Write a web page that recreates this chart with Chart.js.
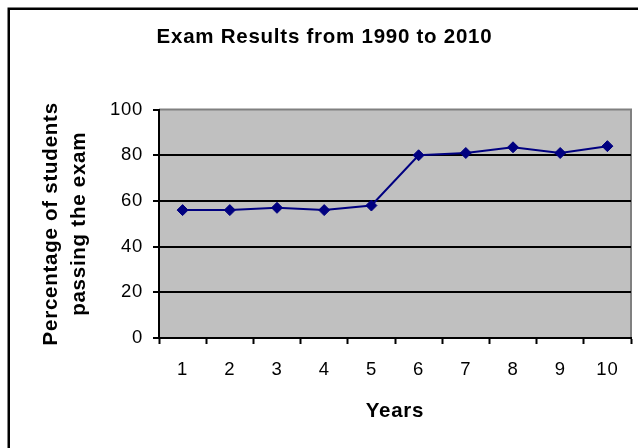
<!DOCTYPE html>
<html>
<head>
<meta charset="utf-8">
<script src="https://cdn.jsdelivr.net/npm/chart.js@4.4.1/dist/chart.umd.min.js"></script>
<style>
  html, body { margin: 0; padding: 0; background: #fff; }
  canvas { display: block; }
</style>
</head>
<body>
<canvas id="chart" width="638" height="448"></canvas>
<script>
// data
const years = ['1', '2', '3', '4', '5', '6', '7', '8', '9', '10'];
const passRates = [56, 56, 57, 56, 58, 80, 81, 83.5, 81, 84];
const yTicks = [0, 20, 40, 60, 80, 100];

const chartTitle = 'Exam Results from 1990 to 2010';
const xTitle = 'Years';
const yTitle = ['Percentage of students', 'passing the exam'];

const FONT = 'Liberation Sans, Arial, sans-serif';

// white page, outer black frame and the grey plot area (Excel look)
const frame = {
  id: 'frame',
  beforeDraw(chart) {
    const { ctx, chartArea: a } = chart;
    ctx.save();
    ctx.fillStyle = '#fff';
    ctx.fillRect(0, 0, chart.width, chart.height);
    ctx.strokeStyle = '#000';
    ctx.lineWidth = 2.5;
    ctx.strokeRect(8.75, 8.75, chart.width + 20, chart.height + 20);
    ctx.fillStyle = '#c0c0c0';
    ctx.fillRect(a.left, a.top, a.right - a.left, a.bottom - a.top);
    ctx.strokeStyle = '#808080';
    ctx.lineWidth = 2;
    ctx.beginPath();
    ctx.moveTo(a.left, a.top);
    ctx.lineTo(a.right, a.top);
    ctx.lineTo(a.right, a.bottom);
    ctx.stroke();
    ctx.restore();
    // the reference text runs a little wider than Arial
    ctx.letterSpacing = '0.75px';
  }
};

new Chart(document.getElementById('chart'), {
  type: 'line',
  data: {
    labels: years,
    datasets: [{
      data: passRates,
      borderColor: '#000080',
      borderWidth: 2,
      tension: 0,
      pointStyle: 'rectRot',
      pointRadius: 5.5,
      pointBackgroundColor: '#000080',
      pointBorderColor: '#000080',
      pointBorderWidth: 1
    }]
  },
  options: {
    responsive: false,
    animation: false,
    layout: { padding: { left: 18, right: 7, top: 0, bottom: 0 } },
    plugins: {
      legend: { display: false },
      tooltip: { enabled: false },
      title: {
        display: true,
        text: chartTitle,
        color: '#000',
        font: { family: FONT, size: 20.5, weight: 'bold' },
        padding: { top: 24.7, bottom: 60.3 }
      }
    },
    scales: {
      x: {
        type: 'category',
        offset: true,
        grid: {
          offset: true,
          drawOnChartArea: false,
          drawTicks: true,
          tickLength: 6,
          tickWidth: 2,
          tickColor: '#000'
        },
        border: { color: '#000', width: 2 },
        ticks: {
          color: '#000',
          font: { family: FONT, size: 18.5 },
          padding: 15,
          autoSkip: false,
          maxRotation: 0
        },
        title: {
          display: true,
          text: xTitle,
          color: '#000',
          font: { family: FONT, size: 20.5, weight: 'bold' },
          padding: { top: 0, bottom: 24.7 }
        },
        afterFit: s => { s.height = 110; }
      },
      y: {
        min: 0,
        max: 100,
        grid: {
          color: c => (c.tick && c.tick.value === 100 ? 'rgba(0,0,0,0)' : '#000'),
          lineWidth: 2,
          tickLength: 6,
          tickWidth: 2,
          tickColor: '#000'
        },
        border: { color: '#000', width: 2 },
        ticks: {
          color: '#000',
          font: { family: FONT, size: 18.5 },
          padding: 10
        },
        afterBuildTicks: s => { s.ticks = yTicks.map(v => ({ value: v })); },
        title: {
          display: true,
          text: yTitle,
          color: '#000',
          font: { family: FONT, size: 20.5, weight: 'bold', lineHeight: 28 / 20.5 },
          padding: { top: 19.7, bottom: 0 }
        },
        afterFit: s => { s.width = 141; }
      }
    }
  },
  plugins: [frame]
});
</script>
</body>
</html>
